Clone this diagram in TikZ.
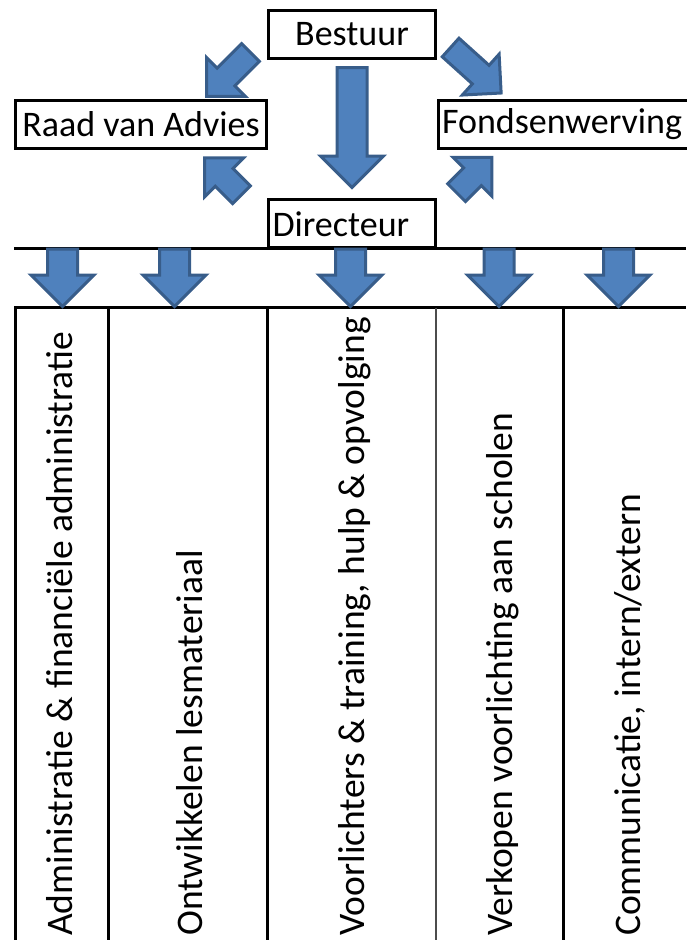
\documentclass[tikz,border=0pt]{standalone}
\usepackage{fontspec}
\setmainfont{Carlito}
\usetikzlibrary{shapes.arrows}
\definecolor{arrowfill}{RGB}{79,129,189}
\definecolor{arrowline}{RGB}{56,93,138}

\begin{document}
\begin{tikzpicture}[x=1pt, y=1pt,
    box/.style={draw, line width=3pt, minimum height=48pt, inner sep=4pt, font=\fontsize{36}{42}\selectfont},
    blockarrow/.style={single arrow, draw=arrowline, fill=arrowfill, line width=3pt, anchor=tail, inner xsep=0pt, inner ysep=13.5pt, single arrow head extend=16.5pt},
    slimarrow/.style={blockarrow, inner ysep=11pt, single arrow head extend=15pt},
    column/.style={rotate=90, anchor=west, inner sep=0pt, font=\fontsize{37.5}{44}\selectfont}]
    \useasboundingbox (0,0) rectangle (686,-940);

    \node[box, minimum width=167pt] (bestuur) at (352,-34.5) {Bestuur};
    \node[box, minimum width=251pt] (raad) at (141,-124.5) {Raad van Advies};
    \node[box, anchor=west, text width=252pt, align=left] (fonds) at (436.5,-124.5) {Fondsenwerving};
    \node[box, text width=159pt, align=left] (directeur) at (352,-223.75) {Directeur};

    \node[blockarrow, minimum height=120pt, rotate=-90] (down) at ([yshift=-6pt]bestuur.south) {};
    \node[slimarrow, minimum height=62pt, rotate=225] (toraad) at ([shift={(-15.5,8.5)}]bestuur.south west) {};
    \node[slimarrow, minimum height=68pt, rotate=-42] (tofonds) at ([shift={(12.5,13.5)}]bestuur.south east) {};
    \node[slimarrow, minimum height=52pt, rotate=135] (upraad) at ([shift={(-24.5,2.5)}]directeur.north west) {};
    \node[slimarrow, minimum height=50pt, rotate=45] (upfonds) at ([shift={(18.5,4.5)}]directeur.north east) {};

    \draw[line width=3pt] (14,-248) -- (686,-248);
    \draw[line width=3pt] (14,-307.5) -- (686,-307.5);
    \foreach \x in {15.5,108,267.5,563.5}
        \draw[line width=3pt] (\x,-307.5) -- (\x,-945);
    \draw[line width=2pt, black!70] (436,-307.5) -- (436,-945);

    \foreach \x/\n in {62.5/a1,174.5/a2,350.5/a3,499/a4,618.5/a5}
        \node[blockarrow, minimum height=57.5pt, rotate=-90] (\n) at (\x,-247.5) {};

    \node[column] (c1) at (60,-936) {Administratie \& financiële administratie};
    \node[column] (c2) at (190,-936) {Ontwikkelen lesmateriaal};
    \node[column] (c3) at (355,-936) {Voorlichters \& training, hulp \& opvolging};
    \node[column] (c4) at (503,-936) {Verkopen voorlichting aan scholen};
    \node[column] (c5) at (630,-936) {Communicatie, intern/extern};
\end{tikzpicture}
\end{document}
